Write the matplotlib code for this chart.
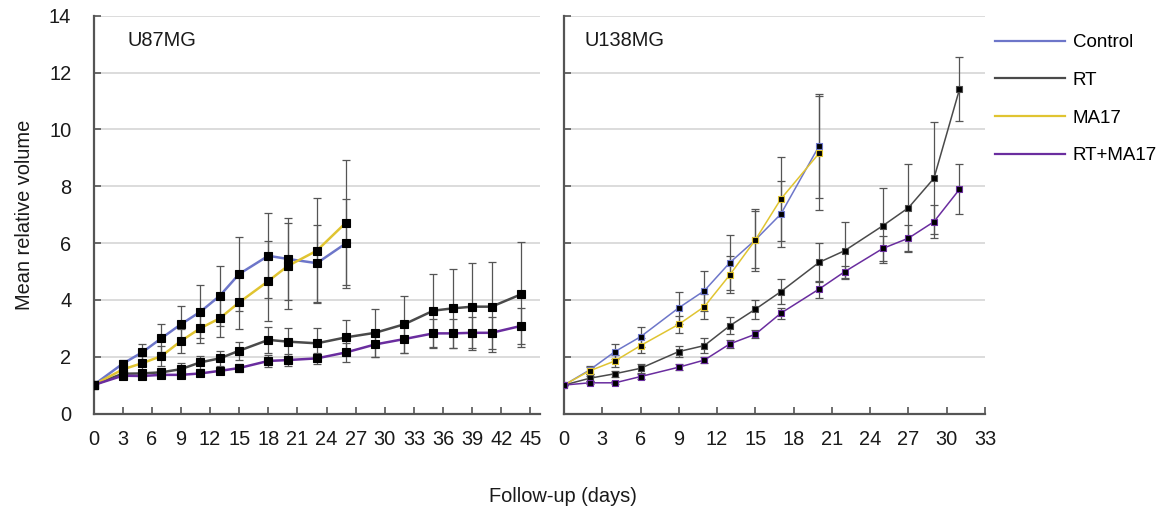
import matplotlib
matplotlib.use("Agg")
import matplotlib.pyplot as plt
from matplotlib.lines import Line2D

plt.rcParams['font.family'] = ['Liberation Sans', 'DejaVu Sans']

series_names = ["Control", "RT", "MA17", "RT+MA17"]
colors = {"Control": "#6d76c9", "RT": "#4a4a4a", "MA17": "#e0c431", "RT+MA17": "#6a2d9f"}

# U87MG (left panel)
days_L = [0, 3, 5, 7, 9, 11, 13, 15, 18, 20, 23, 26, 29, 32, 35, 37, 39, 41, 44]
ctrl_L = [1.0, 1.75, 2.15, 2.65, 3.14, 3.58, 4.14, 4.91, 5.55, 5.44, 5.29, 5.99]
ma17_L = [1.0, 1.55, 1.77, 2.02, 2.55, 3.0, 3.35, 3.91, 4.66, 5.19, 5.73, 6.72]
rt_L = [1.0, 1.4, 1.41, 1.45, 1.56, 1.8, 1.94, 2.21, 2.59, 2.53, 2.47, 2.68,
        2.84, 3.14, 3.62, 3.7, 3.76, 3.76, 4.19]
rtma_L = [1.0, 1.33, 1.32, 1.36, 1.36, 1.41, 1.5, 1.6, 1.85, 1.88, 1.94, 2.15,
          2.43, 2.62, 2.82, 2.82, 2.84, 2.84, 3.08]
ctrl_err_L = [0, 0.15, 0.3, 0.5, 0.64, 0.94, 1.05, 1.31, 1.5, 1.45, 1.36, 1.56]
ma17_err_L = [0, 0.12, 0.25, 0.35, 0.41, 0.53, 0.67, 0.95, 1.4, 1.5, 1.85, 2.2]
rt_err_L = [0, 0.1, 0.1, 0.12, 0.23, 0.22, 0.26, 0.32, 0.45, 0.49, 0.53, 0.61,
            0.84, 1.0, 1.28, 1.39, 1.53, 1.58, 1.84]
rtma_err_L = [0, 0.08, 0.08, 0.08, 0.1, 0.1, 0.12, 0.15, 0.2, 0.2, 0.2, 0.33,
              0.43, 0.5, 0.52, 0.52, 0.55, 0.57, 0.65]

# U138MG (right panel)
days_R = [0, 2, 4, 6, 9, 11, 13, 15, 17, 20, 22, 25, 27, 29, 31]
ctrl_R = [1.0, 1.53, 2.18, 2.7, 3.72, 4.32, 5.31, 6.11, 7.02, 9.42]
ma17_R = [1.0, 1.5, 1.85, 2.39, 3.14, 3.76, 4.88, 6.11, 7.55, 9.16]
rt_R = [1.0, 1.24, 1.4, 1.59, 2.18, 2.39, 3.09, 3.67, 4.29, 5.32, 5.73, 6.61,
        7.24, 8.28, 11.41]
rtma_R = [1.0, 1.08, 1.08, 1.3, 1.63, 1.88, 2.45, 2.79, 3.53, 4.38, 4.99, 5.81,
          6.17, 6.75, 7.89]
ctrl_err_R = [0, 0.15, 0.26, 0.36, 0.57, 0.71, 0.97, 1.08, 1.15, 1.82]
ma17_err_R = [0, 0.12, 0.2, 0.25, 0.3, 0.43, 0.65, 1.0, 1.49, 2.0]
rt_err_R = [0, 0.08, 0.1, 0.15, 0.2, 0.26, 0.3, 0.33, 0.45, 0.69, 1.0, 1.32,
            1.53, 1.97, 1.13]
rtma_err_R = [0, 0.05, 0.05, 0.08, 0.1, 0.12, 0.15, 0.15, 0.2, 0.3, 0.21, 0.44,
              0.47, 0.58, 0.88]

yticks = [0, 2, 4, 6, 8, 10, 12, 14]
xticks_L = list(range(0, 46, 3))
xticks_R = list(range(0, 34, 3))

W, H = 1164, 514
fig = plt.figure(figsize=(W / 100, H / 100), dpi=100)
axL = fig.add_axes([93.5 / W, 1 - 413.5 / H, (540.2 - 93.5) / W, (413.5 - 15.7) / H])
axR = fig.add_axes([564 / W, 1 - 413.5 / H, (985 - 564) / W, (413.5 - 15.7) / H])

panels = [
    (axL, days_L, {"Control": (ctrl_L, ctrl_err_L), "RT": (rt_L, rt_err_L),
                   "MA17": (ma17_L, ma17_err_L), "RT+MA17": (rtma_L, rtma_err_L)},
     xticks_L, (0, 46), "U87MG", 127.5, 1.8, 5.6, True),
    (axR, days_R, {"Control": (ctrl_R, ctrl_err_R), "RT": (rt_R, rt_err_R),
                   "MA17": (ma17_R, ma17_err_R), "RT+MA17": (rtma_R, rtma_err_R)},
     xticks_R, (0, 33), "U138MG", 585, 1.1, 4.2, False),
]

for ax, days, data, xt, xl, title, tx, lw, ms, ylab in panels:
    for name in series_names:
        vals, errs = data[name]
        d = days[:len(vals)]
        ax.errorbar(d, vals, yerr=errs, fmt='none', ecolor='#555555',
                    elinewidth=0.9, capsize=3, capthick=0.9, zorder=2)
    for name in series_names:
        vals, errs = data[name]
        d = days[:len(vals)]
        mec = 'black' if ylab else colors[name]
        ax.plot(d, vals, color=colors[name], lw=lw, marker='s', ms=ms,
                mfc='black', mec=mec, mew=0.8, zorder=3)
    ax.set_xlim(*xl)
    ax.set_ylim(0, 14)
    ax.set_xticks(xt)
    ax.set_yticks(yticks)
    ax.grid(axis='y', color='#d9d9d9', lw=1.3, zorder=0)
    ax.set_axisbelow(True)
    for s in ['top', 'right']:
        ax.spines[s].set_visible(False)
    for s in ['left', 'bottom']:
        ax.spines[s].set_color('#555555')
        ax.spines[s].set_linewidth(1.6)
    ax.tick_params(axis='x', direction='in', length=5, width=1.2, color='#555555',
                   labelsize=14.4, pad=12, labelcolor='#1a1a1a')
    ax.tick_params(axis='y', direction='in', length=5, width=1.2, color='#555555',
                   labelsize=14.4, pad=16, labelcolor='#1a1a1a', labelleft=ylab)
    fig.text(tx / W, 1 - 41 / H, title, ha='left', va='center',
             fontsize=14.4, color='#1a1a1a')

fig.text(25 / W, 1 - 214.6 / H, "Mean relative volume", rotation=90,
         ha='center', va='center', fontsize=14.4, color='#1a1a1a')
fig.text(563 / W, 1 - 496 / H, "Follow-up (days)", ha='center', va='center',
         fontsize=14.4, color='#1a1a1a')

handles = [Line2D([0], [0], color=colors[n], lw=1.6) for n in series_names]
fig.legend(handles, series_names, loc='upper left',
           bbox_to_anchor=(995 / W, 1 - 34 / H), frameon=False,
           fontsize=13.5, handlelength=3.75, handletextpad=0.4,
           labelspacing=1.1, borderpad=0, borderaxespad=0)

fig.savefig("out.png", dpi=100)
